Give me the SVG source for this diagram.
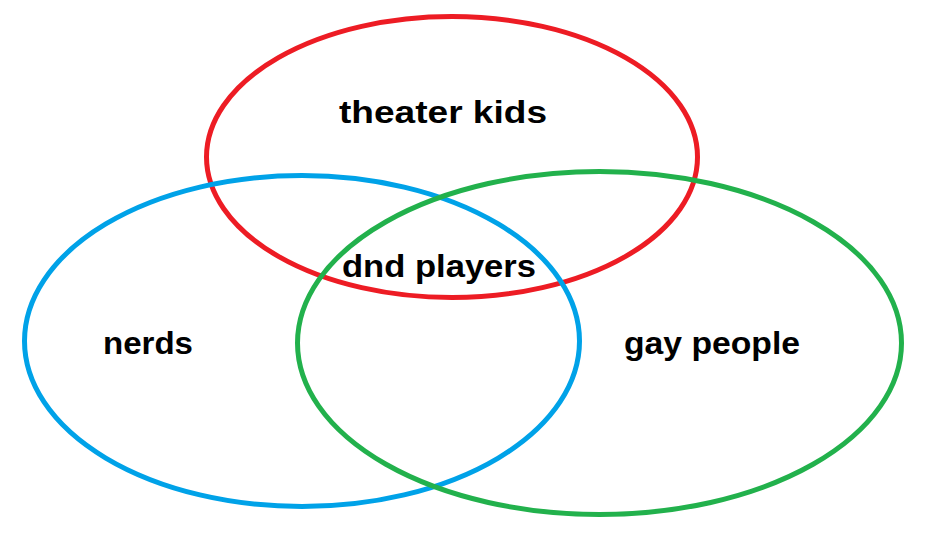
<svg xmlns="http://www.w3.org/2000/svg" width="929" height="548" viewBox="0 0 929 548">
<style>
.set{fill:none;stroke-width:5}
.lbl{font-family:"Comic Sans MS","Liberation Sans",sans-serif;font-weight:bold;font-size:31px;fill:#000;text-anchor:middle}
</style>
<rect width="929" height="548" fill="#fff"/>
<g id="theater">
<ellipse class="set" cx="452" cy="157" rx="245.5" ry="140.5" stroke="#ed1c24"/>
<text class="lbl" x="443" y="123" textLength="208" lengthAdjust="spacingAndGlyphs">theater kids</text>
</g>
<g id="nerds">
<ellipse class="set" cx="302" cy="341" rx="277.5" ry="165.5" stroke="#00a2e8"/>
<text class="lbl" x="148" y="354" textLength="90" lengthAdjust="spacingAndGlyphs">nerds</text>
</g>
<g id="gay">
<ellipse class="set" cx="599.5" cy="343" rx="302" ry="171.5" stroke="#22b14c"/>
<text class="lbl" x="712" y="354" textLength="176" lengthAdjust="spacingAndGlyphs">gay people</text>
</g>
<g id="dnd">
<text class="lbl" x="439" y="277" textLength="194" lengthAdjust="spacingAndGlyphs">dnd players</text>
</g>
<g id="connectors"/>
</svg>
